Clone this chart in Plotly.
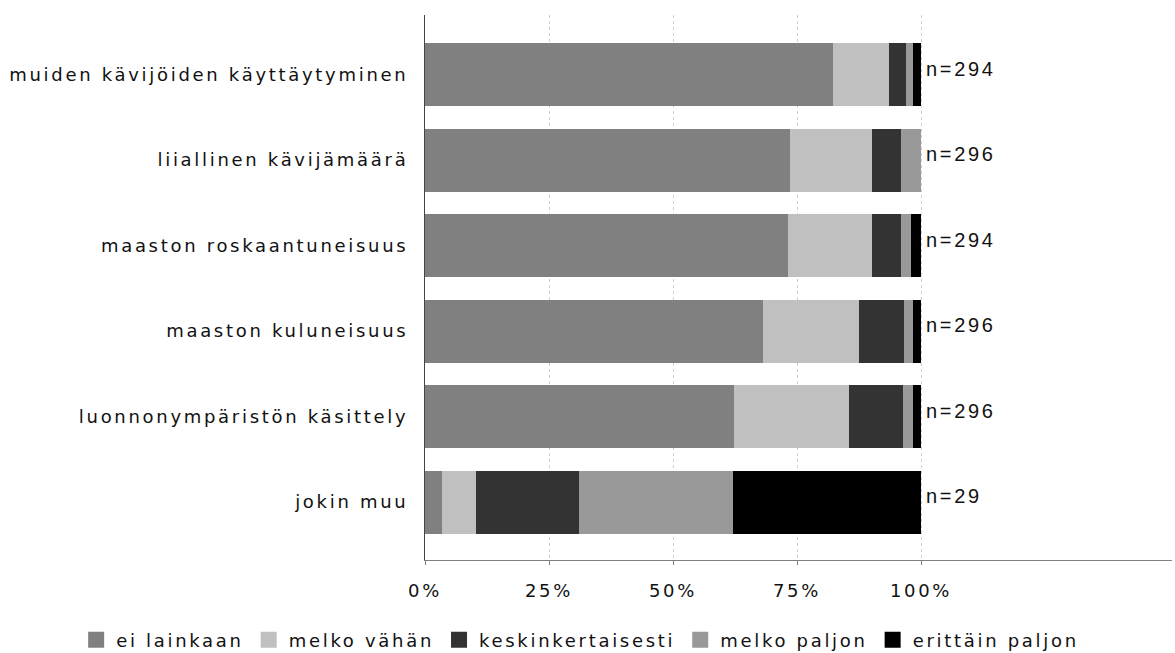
import plotly.graph_objects as go

categories = [
    "muiden kävijöiden käyttäytyminen",
    "liiallinen kävijämäärä",
    "maaston roskaantuneisuus",
    "maaston kuluneisuus",
    "luonnonympäristön käsittely",
    "jokin muu",
]
n_labels = ["n=294", "n=296", "n=294", "n=296", "n=296", "n=29"]

series_names = ["ei lainkaan", "melko vähän", "keskinkertaisesti", "melko paljon", "erittäin paljon"]
ei_lainkaan = [82.3, 73.6, 73.1, 68.2, 62.2, 3.4]
melko_vahan = [11.2, 16.6, 17.0, 19.3, 23.3, 6.9]
keskinkertaisesti = [3.4, 5.7, 5.8, 9.1, 10.8, 20.7]
melko_paljon = [1.4, 4.1, 2.0, 1.7, 2.0, 31.0]
erittain_paljon = [1.7, 0.0, 2.1, 1.7, 1.7, 37.9]

tick_vals = [0, 25, 50, 75, 100]
tick_text = ["0%", "25%", "50%", "75%", "100%"]

colors = ["#808080", "#c0c0c0", "#333333", "#999999", "#000000"]
values = [ei_lainkaan, melko_vahan, keskinkertaisesti, melko_paljon, erittain_paljon]

FONT = "DejaVu Sans"

fig = go.Figure()
for name, vals, col in zip(series_names, values, colors):
    fig.add_trace(go.Bar(
        y=categories, x=vals, name=name, orientation="h",
        marker=dict(color=col, line=dict(width=0)),
        hoverinfo="x+y+name", showlegend=False,
    ))
# legend proxies (square swatches)
for name, col in zip(series_names, colors):
    fig.add_trace(go.Scatter(
        x=[None], y=[None], mode="markers", name=name,
        marker=dict(symbol="square", size=16, color=col, line=dict(width=0)),
        showlegend=True, hoverinfo="skip",
    ))

for cat, lab in zip(categories, n_labels):
    fig.add_annotation(
        x=100, y=cat, xref="x", yref="y", text=lab, showarrow=False,
        xanchor="left", yanchor="middle", align="left", xshift=3, yshift=6,
        font=dict(family="Liberation Sans", size=20, color="#111111"),
    )

fig.update_layout(
    width=1175, height=653,
    margin=dict(l=425, r=3, t=15, b=93, autoexpand=False),
    barmode="stack",
    bargap=0.263,
    paper_bgcolor="white",
    plot_bgcolor="white",
    font=dict(family=FONT, size=18, color="#111111"),
    showlegend=True,
    legend=dict(
        orientation="h", xref="paper", yref="paper",
        x=-0.467, xanchor="left", y=-0.147, yanchor="middle",
        itemclick=False, traceorder="normal", itemsizing="trace",
        bgcolor="rgba(0,0,0,0)",
    ),
    xaxis=dict(
        range=[0, 150.6], tickvals=tick_vals, ticktext=tick_text,
        showgrid=True, gridcolor="#d0d0d0", griddash="dot", gridwidth=1,
        showline=True, linecolor="#808080", linewidth=1,
        ticks="outside", ticklen=4, tickcolor="#808080",
        ticklabelstandoff=10, zeroline=False,
    ),
    yaxis=dict(
        categoryorder="array", categoryarray=categories,
        range=[5.678, -0.696],
        showline=True, linecolor="#444444", linewidth=1,
        showgrid=False, ticks="", ticklabelstandoff=12,
    ),
)

post = """
document.body.style.margin = '0';
document.body.style.overflow = 'hidden';
var st = document.createElement('style');
st.textContent = 'svg text { letter-spacing: 2.7px; }';
document.head.appendChild(st);
var gd = document.getElementById('{plot_id}');
var upd = {'font.family': 'DejaVu Sans, sans-serif'};
for (var i = 0; i < gd.layout.annotations.length; i++) {
  upd['annotations[' + i + '].font.family'] = 'Liberation Sans, sans-serif';
}
Plotly.relayout(gd, upd);
"""

fig.write_html("out.html", post_script=post, config={"displayModeBar": False})
